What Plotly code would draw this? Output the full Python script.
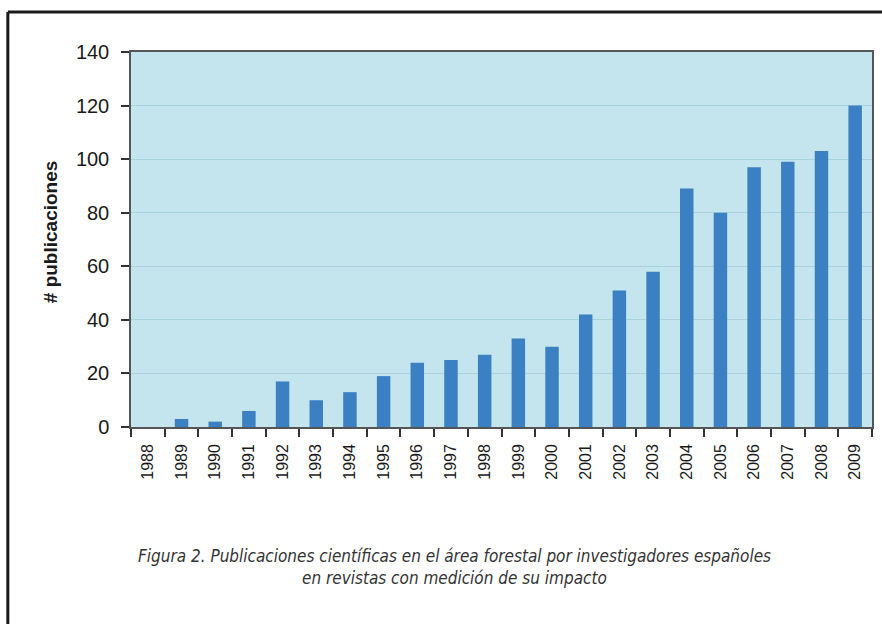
import plotly.graph_objects as go

years = [str(y) for y in range(1988, 2010)]
publicaciones = [0, 3, 2, 6, 17, 10, 13, 19, 24, 25, 27, 33, 30, 42, 51, 58, 89, 80, 97, 99, 103, 120]
y_ticks = [0, 20, 40, 60, 80, 100, 120, 140]
y_title = "# publicaciones"
caption_1 = "Figura 2. Publicaciones científicas en el área forestal por investigadores españoles"
caption_2 = "en revistas con medición de su impacto"

W, H = 882, 624
L, R, T, B = 131, 8, 52, 197
pw, ph = W - L - R, H - T - B

def px(x):
    return (x - L) / pw

def py(y):
    return (H - B - y) / ph

fig = go.Figure(go.Bar(x=years, y=publicaciones, marker_color="#3b80c2",
                       marker_line_width=0))

fig.update_layout(
    width=W, height=H, margin=dict(l=L, r=R, t=T, b=B, pad=0),
    paper_bgcolor="white", plot_bgcolor="#c4e5ed",
    bargap=0.6, showlegend=False,
    font=dict(family="Arial, Liberation Sans, sans-serif", color="#1a1a1a"),
)
fig.update_xaxes(
    type="category", tickangle=-90, tickson="boundaries",
    ticks="outside", ticklen=8, tickcolor="#333", tickwidth=1.5,
    showline=True, linecolor="#555", linewidth=1.5, mirror=True,
    tickfont=dict(size=16, color="#1a1a1a"), showgrid=False,
    ticklabelstandoff=9,
)
fig.update_yaxes(
    range=[0, 140], tickvals=y_ticks, ticks="outside", ticklen=8,
    tickcolor="#333", tickwidth=1.5,
    showline=True, linecolor="#555", linewidth=1.5, mirror=True,
    gridcolor="#a9d3dd", gridwidth=1, zeroline=False,
    tickfont=dict(size=20, color="#1a1a1a"), ticklabelstandoff=8,
)

fig.add_annotation(text="<b>" + y_title + "</b>", xref="paper", yref="paper",
                   x=px(50), y=py(232), textangle=-90, showarrow=False,
                   font=dict(size=19, color="#1a1a1a"),
                   xanchor="center", yanchor="middle")

# outer frame (left and top lines)
fig.add_shape(type="line", xref="paper", yref="paper",
              x0=px(7.5), x1=px(W + 5), y0=py(12), y1=py(12),
              line=dict(color="#1a1a1a", width=3))
fig.add_shape(type="line", xref="paper", yref="paper",
              x0=px(7.5), x1=px(7.5), y0=py(12), y1=py(H + 5),
              line=dict(color="#1a1a1a", width=3))

cap_font = dict(family="Liberation Sans Narrow, DejaVu Sans Condensed, Arial", size=17, color="#333")
fig.add_annotation(text="<i>" + caption_1 + "</i>", xref="paper", yref="paper",
                   x=px(455), y=py(556), showarrow=False, font=cap_font,
                   xanchor="center", yanchor="middle")
fig.add_annotation(text="<i>" + caption_2 + "</i>", xref="paper", yref="paper",
                   x=px(455), y=py(578), showarrow=False, font=cap_font,
                   xanchor="center", yanchor="middle")

fig.write_html("out.html", config={"displayModeBar": False},
               post_script="document.body.style.margin='0';document.body.style.overflow='hidden';")
